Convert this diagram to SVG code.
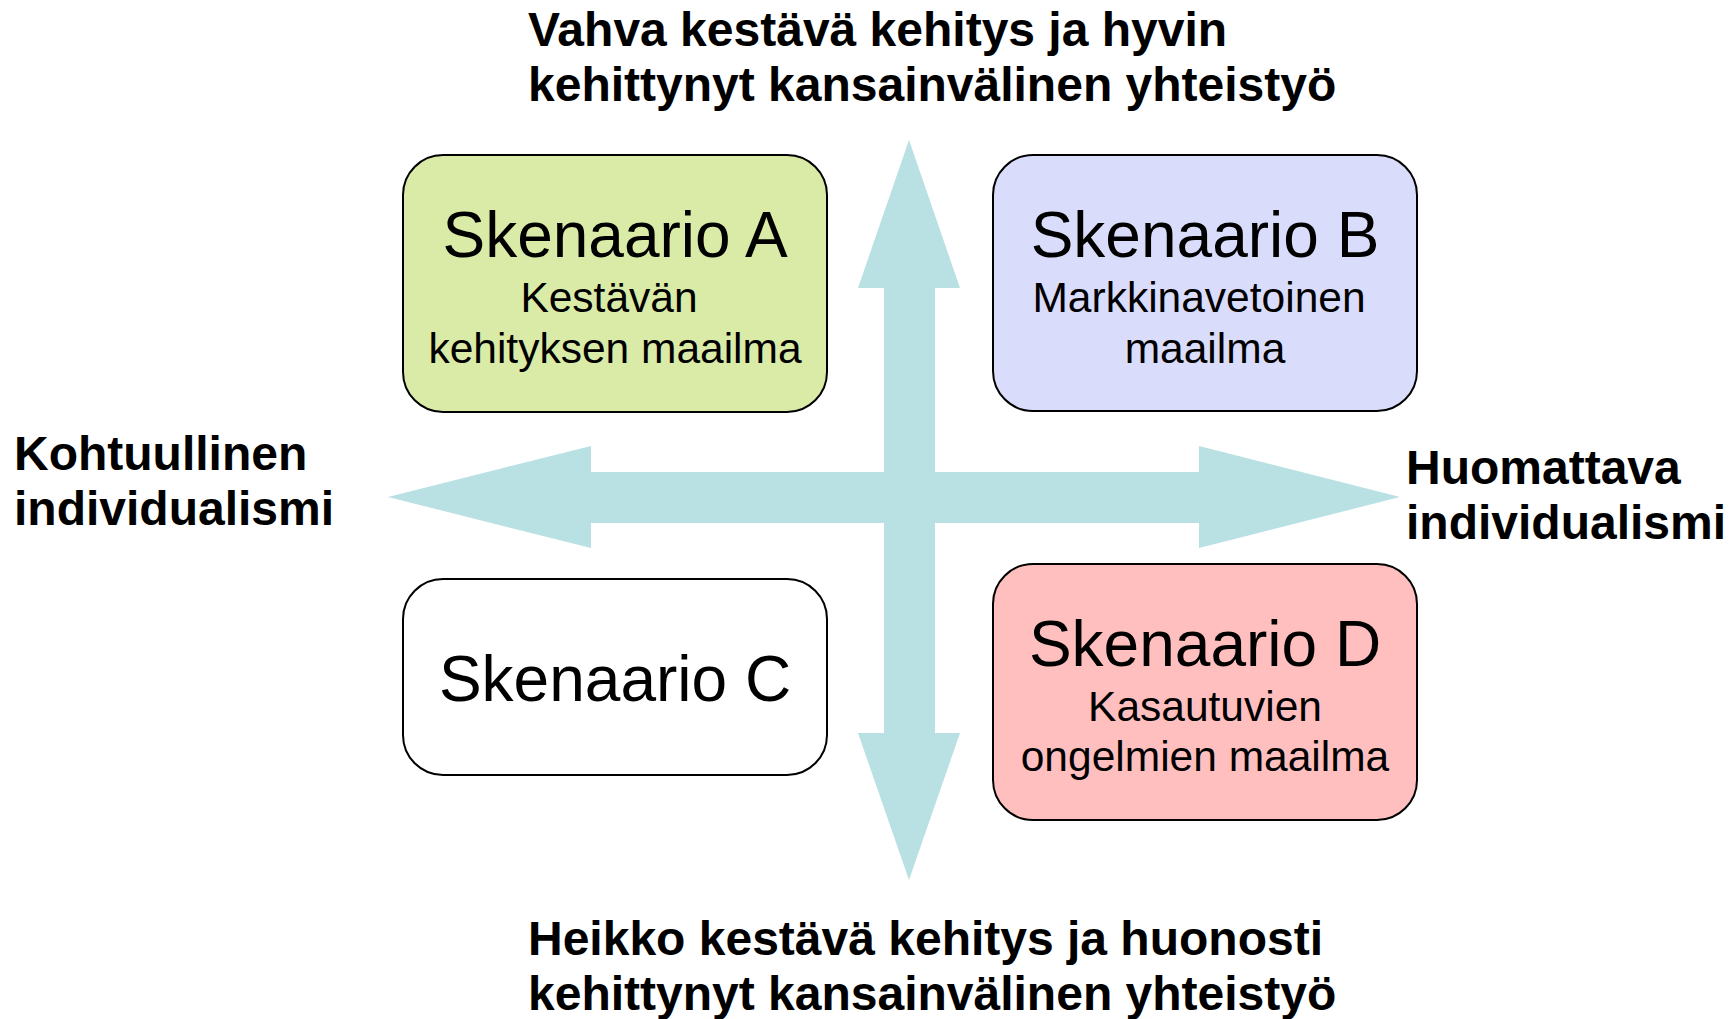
<svg xmlns="http://www.w3.org/2000/svg" width="1733" height="1019" viewBox="0 0 1733 1019">
  <style>
    text { font-family: "Liberation Sans", Arial, sans-serif; fill: #000; }
    .axis { font-weight: bold; font-size: 48px; }
    .side { font-weight: bold; font-size: 48px; }
    .title { font-size: 64px; text-anchor: middle; }
    .sub { font-size: 42.5px; text-anchor: middle; }
    .box { stroke: #000; stroke-width: 2; }
    .arrow { fill: #B9E0E3; stroke: none; }
  </style>
  <rect width="1733" height="1019" fill="#fff"/>
  <g id="connectors">
    <polygon class="arrow" points="909,140 960,288 935,288 935,733 960,733 909,880 858,733 884,733 884,288 858,288"/>
    <polygon class="arrow" points="388,497 591,446 591,472 1199,472 1199,446 1400,497 1199,548 1199,523 591,523 591,548"/>
  </g>
  <g id="label-top">
    <text class="axis" x="528" y="46">Vahva kestävä kehitys ja hyvin</text>
    <text class="axis" x="528" y="101">kehittynyt kansainvälinen yhteistyö</text>
  </g>
  <g id="label-bottom">
    <text class="axis" x="528" y="955">Heikko kestävä kehitys ja huonosti</text>
    <text class="axis" x="528" y="1010">kehittynyt kansainvälinen yhteistyö</text>
  </g>
  <g id="label-left">
    <text class="side" x="14" y="470">Kohtuullinen</text>
    <text class="side" x="14" y="525">individualismi</text>
  </g>
  <g id="label-right">
    <text class="side" x="1406" y="484">Huomattava</text>
    <text class="side" x="1406" y="539">individualismi</text>
  </g>
  <g id="skenaario-a">
    <rect class="box" x="403" y="155" width="424" height="257" rx="40" ry="40" fill="#D9EBA6"/>
    <text class="title" x="615" y="257">Skenaario A</text>
    <text class="sub" x="609" y="312">Kestävän</text>
    <text class="sub" x="615" y="363">kehityksen maailma</text>
  </g>
  <g id="skenaario-b">
    <rect class="box" x="993" y="155" width="424" height="256" rx="40" ry="40" fill="#D9DCFA"/>
    <text class="title" x="1205" y="257">Skenaario B</text>
    <text class="sub" x="1199" y="312">Markkinavetoinen</text>
    <text class="sub" x="1205" y="363">maailma</text>
  </g>
  <g id="skenaario-c">
    <rect class="box" x="403" y="579" width="424" height="196" rx="40" ry="40" fill="#FFFFFF"/>
    <text class="title" x="615" y="701">Skenaario C</text>
  </g>
  <g id="skenaario-d">
    <rect class="box" x="993" y="564" width="424" height="256" rx="40" ry="40" fill="#FFBFBF"/>
    <text class="title" x="1205" y="666">Skenaario D</text>
    <text class="sub" x="1205" y="721">Kasautuvien</text>
    <text class="sub" x="1205" y="771">ongelmien maailma</text>
  </g>
</svg>
